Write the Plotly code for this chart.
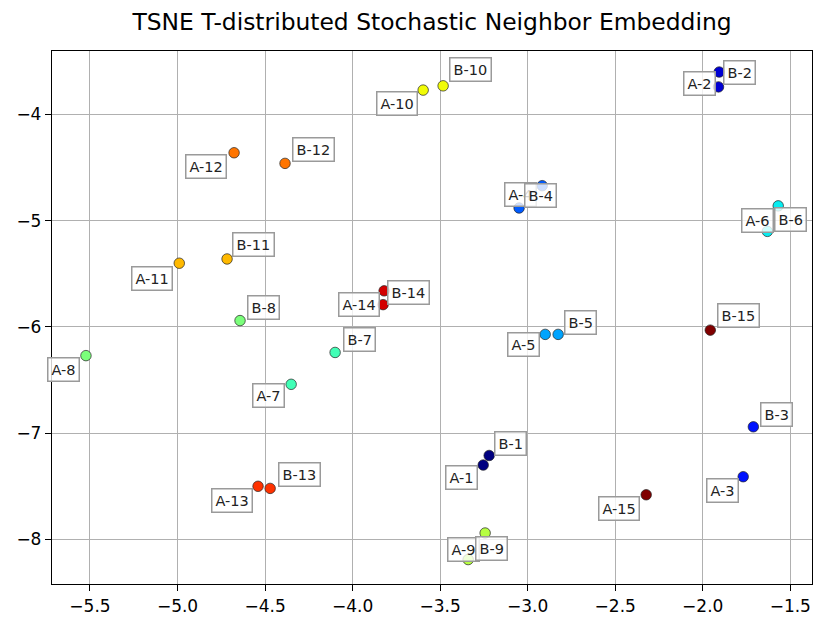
import numpy as np
import plotly.graph_objects as go

# t-SNE coordinates for paired samples A-n / B-n, n = 1..15
pair_ids = list(range(1, 16))
a_x = [-3.254, -1.910, -1.769, -3.049, -2.900, -1.631, -4.351, -5.523,
       -3.340, -3.597, -4.990, -4.677, -4.540, -3.826, -2.323]
a_y = [-7.30, -3.74, -7.41, -4.88, -6.07, -5.10, -6.54, -6.27,
       -8.19, -3.77, -5.40, -4.36, -7.50, -5.79, -7.58]
b_x = [-3.220, -1.906, -1.711, -2.917, -2.826, -1.569, -4.100, -4.643,
       -3.243, -3.483, -4.717, -4.386, -4.471, -3.820, -1.957]
b_y = [-7.21, -3.60, -6.94, -4.67, -6.07, -4.86, -6.24, -5.94,
       -7.94, -3.73, -5.36, -4.46, -7.52, -5.66, -6.03]

title_text = "TSNE T-distributed Stochastic Neighbor Embedding"
x_ticks = [-5.5, -5.0, -4.5, -4.0, -3.5, -3.0, -2.5, -2.0, -1.5]
y_ticks = [-8, -7, -6, -5, -4]

# Label box placement: pixel offset (right, down) of the box centre from its point,
# spread out so that neighbouring labels do not collide.
a_label_shift = {
    1: (-22, 12), 2: (-19, -3), 3: (-20.5, 14), 4: (1, -13), 5: (-22, 10.5),
    6: (-10, -11), 7: (-23, 11), 8: (-22, 14), 9: (-5, -10.5), 10: (-26.5, 13),
    11: (-27.5, 15), 12: (-28.5, 14), 13: (-26.5, 14.5), 14: (-24.5, 0), 15: (-27.5, 13.5),
}
b_label_shift = {
    1: (21, -12), 2: (20, 0), 3: (23, -12.5), 4: (-2, 10), 5: (22, -12),
    6: (12, 14), 7: (24, -12.5), 8: (23.5, -13.5), 9: (6.5, 15), 10: (27.5, -16.5),
    11: (26.5, -14), 12: (28, -13.5), 13: (29, -13.5), 14: (24.5, 2), 15: (28, -14.5),
}


def jet(v):
    """Matplotlib 'jet' colormap, v in [0, 1] -> hex colour."""
    r = np.interp(v, [0, 0.35, 0.66, 0.89, 1], [0, 0, 1, 1, 0.5])
    g = np.interp(v, [0, 0.125, 0.375, 0.64, 0.91, 1], [0, 0, 1, 1, 0, 0])
    b = np.interp(v, [0, 0.11, 0.34, 0.65, 1], [0.5, 1, 1, 0, 0])
    return "#%02x%02x%02x" % (int(round(r * 255)), int(round(g * 255)), int(round(b * 255)))


n = len(pair_ids)
colors = [jet((k - 1) / (n - 1)) for k in pair_ids]

FONT = "DejaVu Sans"
marker_style = dict(size=10.5, color=colors, line=dict(color="#222222", width=0.7))

fig = go.Figure()
fig.add_trace(go.Scatter(x=a_x, y=a_y, mode="markers", marker=marker_style,
                         text=[f"A-{k}" for k in pair_ids], hoverinfo="text", showlegend=False))
fig.add_trace(go.Scatter(x=b_x, y=b_y, mode="markers", marker=marker_style,
                         text=[f"B-{k}" for k in pair_ids], hoverinfo="text", showlegend=False))

box = dict(showarrow=False, font=dict(family=FONT, size=14.5, color="#222222"),
           bgcolor="rgba(255,255,255,0.8)", bordercolor="#9a9a9a",
           borderwidth=1.5, borderpad=3, xanchor="center", yanchor="middle")

for prefix, xs, ys, shifts in (("A", a_x, a_y, a_label_shift), ("B", b_x, b_y, b_label_shift)):
    for k, x, y in zip(pair_ids, xs, ys):
        dx, dy = shifts[k]
        fig.add_annotation(x=x, y=y, text=f"{prefix}-{k}", xshift=dx, yshift=-dy, **box)

axis_common = dict(showgrid=True, gridcolor="#b0b0b0", gridwidth=1.3,
                   showline=True, linecolor="black", linewidth=1.3, mirror=True,
                   ticks="outside", ticklen=6, tickwidth=1.3, tickcolor="black",
                   tickfont=dict(family=FONT, size=17, color="black"),
                   zeroline=False)

fig.update_xaxes(range=[-5.717, -1.376], tickvals=x_ticks,
                 ticktext=[f"{v:.1f}".replace("-", "\u2212") for v in x_ticks], **axis_common)
fig.update_yaxes(range=[-8.42, -3.402], tickvals=y_ticks,
                 ticktext=[f"{v}".replace("-", "\u2212") for v in y_ticks], **axis_common)

fig.update_layout(
    width=816, height=619,
    margin=dict(l=52, r=3, t=51, b=31),
    paper_bgcolor="white", plot_bgcolor="white",
    title=dict(text=title_text, x=0.5, xref="paper", xanchor="center",
               y=1 - 22 / 619, yref="container", yanchor="middle",
               font=dict(family=FONT, size=23.4, color="black")),
)

fig.write_html("out.html")
